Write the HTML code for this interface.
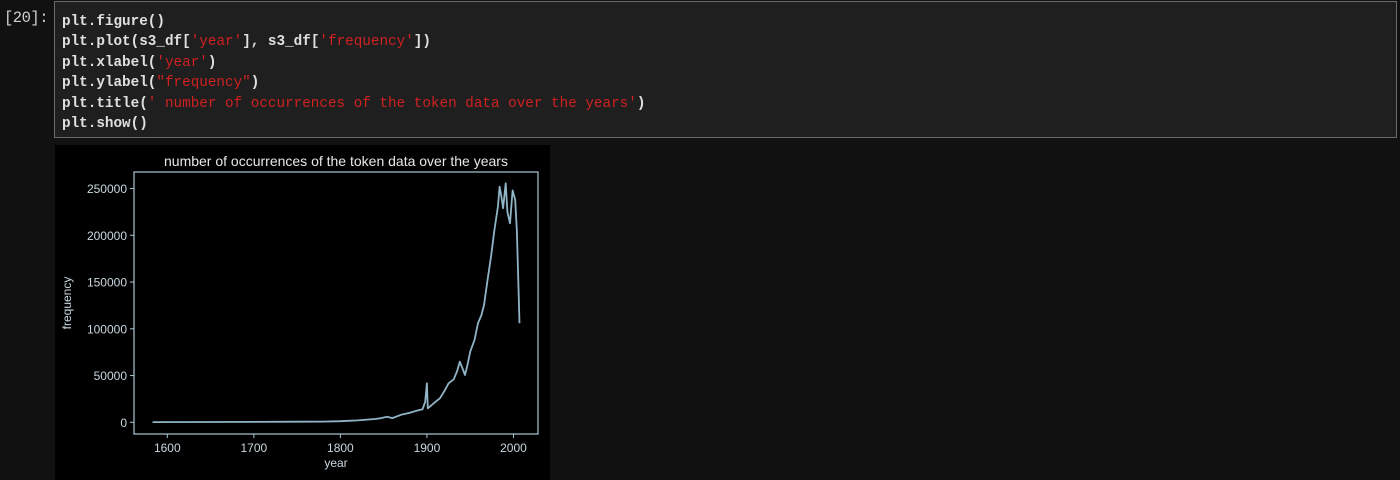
<!DOCTYPE html>
<html><head><meta charset="utf-8">
<style>
body{margin:0;width:1400px;height:480px;background:#111111;overflow:hidden;font-family:"Liberation Sans","DejaVu Sans",sans-serif;position:relative}
.prompt{position:absolute;left:4px;top:9px;color:#d0d0d0;font-family:"Liberation Mono",monospace;font-size:15.5px;letter-spacing:-0.5px}
.cell{position:absolute;left:54px;top:1px;width:1343px;height:137px;background:#1f1f1f;border:1px solid #6a6a6a;box-sizing:border-box}
.code{position:absolute;left:7px;top:10px;font-family:"Liberation Mono",monospace;font-size:14.3px;line-height:20.4px;color:#e0e0e0;font-weight:bold;white-space:pre}
.s{color:#d02020;font-weight:normal}
.fig{position:absolute;left:55px;top:145px;width:495px;height:335px;background:#000}
</style></head><body>
<div class="prompt">[20]:</div>
<div class="cell"><div class="code">plt.figure()
plt.plot(s3_df[<span class="s">'year'</span>], s3_df[<span class="s">'frequency'</span>])
plt.xlabel(<span class="s">'year'</span>)
plt.ylabel(<span class="s">"frequency"</span>)
plt.title(<span class="s">' number of occurrences of the token data over the years'</span>)
plt.show()</div></div>
<div class="fig"></div>
<svg width="1400" height="480" style="position:absolute;left:0;top:0">
<g id="g"></g>
</svg>
<script>
const years=[1583,1650,1700,1750,1780,1800,1820,1840,1846,1854,1860,1870,1880,1888,1895,1898,1900,1901,1905,1910,1915,1920,1925,1931,1935,1938,1941,1944,1947,1950,1955,1959,1963,1966,1970,1974,1978,1982,1984,1986,1988,1991,1993,1996,1999,2002,2004,2007];
const freqs=[200,300,400,600,800,1200,2000,3500,4300,6000,4500,8000,10000,12400,14000,22000,41700,15000,18000,22000,25700,33000,41700,46000,55000,64800,58000,50600,62000,75500,88000,106000,114700,125400,152000,177000,205600,230500,252000,242000,229000,255600,225000,212800,248000,238000,203800,106000];
const yTicks=[0,50000,100000,150000,200000,250000];
const xTicks=[1600,1700,1800,1900,2000];
const L=134,R=538,T=172,B=434;
const X=v=>167.3+(v-1600)*0.8654;
const Y=v=>422.3-v*46.75/50000;
const g=document.getElementById('g');
const NS='http://www.w3.org/2000/svg';
function el(t,a,txt){const e=document.createElementNS(NS,t);for(const k in a)e.setAttribute(k,a[k]);if(txt!==undefined)e.textContent=txt;g.appendChild(e);return e;}
const c='#a9c8d6';
let e=el('rect',{x:L,y:T,width:R-L,height:B-T,fill:'none',stroke:c,'stroke-width':1.2});


yTicks.forEach(v=>{
 let t=el('line',{x1:L-4,x2:L,y1:Y(v),y2:Y(v),stroke:c});
 
 
 let l=el('text',{x:L-7,y:Y(v)+4.5,'text-anchor':'end',fill:'#c8d8e0','font-size':12},String(v));
 
 
});
xTicks.forEach(v=>{
 let t=el('line',{x1:X(v),x2:X(v),y1:B,y2:B+4,stroke:c});
 
 
 let l=el('text',{x:X(v),y:B+18,'text-anchor':'middle',fill:'#c8d8e0','font-size':12},String(v));
 
 
});
let d=years.map((y,i)=>(i?'L':'M')+X(y).toFixed(1)+' '+Y(freqs[i]).toFixed(1)).join(' ');
let p=el('path',{d:d,fill:'none',stroke:'#8fb5c6','stroke-width':1.8,'stroke-linejoin':'round'});


let ti=el('text',{x:(L+R)/2,y:T-6,'text-anchor':'middle',fill:'#e8e8e8','font-size':14},'number of occurrences of the token data over the years');


let xl=el('text',{x:(L+R)/2,y:B+33,'text-anchor':'middle',fill:'#c8d8e0','font-size':12},'year');


let yl=el('text',{x:0,y:0,'text-anchor':'middle',fill:'#c8d8e0','font-size':12,transform:'translate(71,'+((T+B)/2)+') rotate(-90)'},'frequency');


</script>
</body></html>
